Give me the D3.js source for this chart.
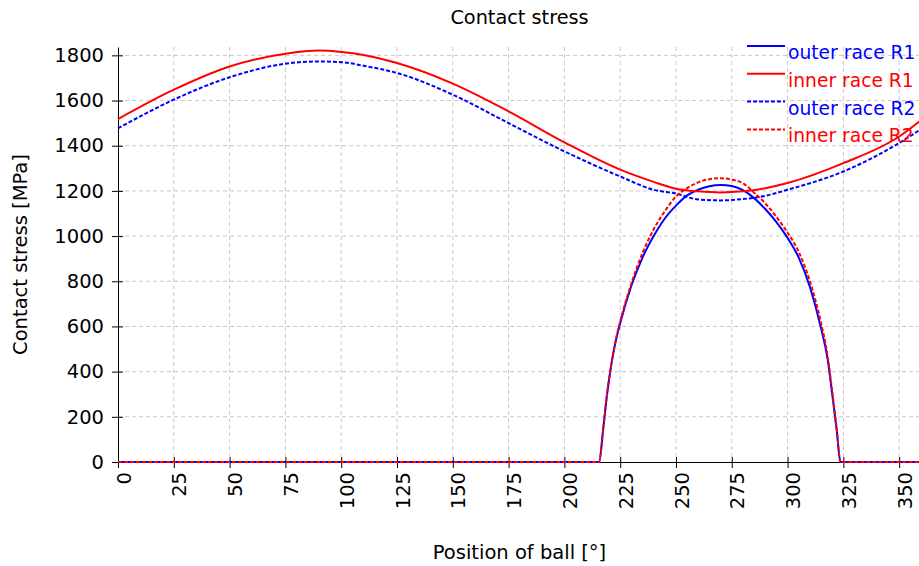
<!DOCTYPE html>
<html>
<head>
<meta charset="utf-8">
<script src="https://cdn.jsdelivr.net/npm/d3@7"></script>
<style>
  body { margin: 0; background: #fff; }
  svg { display: block; }
  svg text { font-family: "DejaVu Sans", Verdana, sans-serif; }
</style>
</head>
<body>
<div id="chart"></div>
<script>
// data : sine-like curves (inner race R1, outer race R2)
const sineDeg = [0, 25, 50, 75, 90, 100, 110, 125, 150, 175, 200, 225, 240, 250, 260, 270, 280, 290, 300, 325, 350, 360];
const innerR1 = [1518, 1648, 1751, 1807, 1821, 1815, 1802, 1766, 1675, 1552, 1415, 1294, 1240, 1210, 1198, 1193, 1198, 1212, 1235, 1323, 1441, 1515];
const outerR2 = [1477, 1604, 1703, 1763, 1773, 1770, 1754, 1722, 1626, 1500, 1375, 1264, 1205, 1188, 1162, 1158, 1164, 1178, 1205, 1286, 1412, 1475];

// data : loaded-zone arches (outer race R1, inner race R2)
const archDeg = [0, 215.5, 217.5, 219, 221, 223, 225, 230, 235, 240, 245, 250, 255, 260, 265, 270, 275, 280, 285, 290, 295, 300, 305, 310, 315, 318, 320, 322, 323.7, 360];
const outerR1 = [0, 0, 156, 289, 430, 535, 614, 780, 905, 1000, 1078, 1135, 1180, 1206, 1221, 1226, 1222, 1203, 1168, 1120, 1062, 992, 905, 775, 592, 452, 300, 142, 0, 0];
const innerR2 = [0, 0, 158, 292, 432, 540, 622, 790, 925, 1030, 1110, 1175, 1212, 1238, 1252, 1256, 1250, 1234, 1192, 1145, 1085, 1015, 930, 800, 615, 465, 312, 148, 0, 0];

const xTicks = d3.range(0, 351, 25);
const yTicks = d3.range(0, 1801, 200);

const series = [
  { name: "outer race R1", deg: archDeg, val: outerR1, color: "#0000ff", dash: null },
  { name: "inner race R1", deg: sineDeg, val: innerR1, color: "#ff0000", dash: null },
  { name: "outer race R2", deg: sineDeg, val: outerR2, color: "#0000ff", dash: "4,2" },
  { name: "inner race R2", deg: archDeg, val: innerR2, color: "#ff0000", dash: "4,2" },
];

//size
const width = 919, height = 566;
const margin = { top: 47, right: -2.5, bottom: 104, left: 118 };

const svg = d3.select("#chart").append("svg")
  .attr("width", width)
  .attr("height", height);

//scale
const x = d3.scaleLinear().domain([0, 360]).range([margin.left, width - margin.right]);
const y = d3.scaleLinear().domain([0, 1837]).range([height - margin.bottom, margin.top]);

//grid
svg.append("g")
  .selectAll("line")
  .data(xTicks.filter((d) => d > 0))
  .join("line")
  .attr("x1", (d) => x(d)).attr("x2", (d) => x(d))
  .attr("y1", y.range()[1]).attr("y2", y(0))
  .attr("stroke", "#c8c8c8")
  .attr("stroke-dasharray", "4,3");

svg.append("g")
  .selectAll("line")
  .data(yTicks.filter((d) => d > 0))
  .join("line")
  .attr("x1", x(0)).attr("x2", width)
  .attr("y1", (d) => y(d)).attr("y2", (d) => y(d))
  .attr("stroke", "#c8c8c8")
  .attr("stroke-dasharray", "4,3");

//axes
const yAxis = svg.append("g")
  .attr("transform", `translate(${x(0)},0)`)
  .call(d3.axisLeft(y).tickValues(yTicks).tickFormat(d3.format("d")).tickSize(6).tickPadding(8).tickSizeOuter(0))
  .attr("font-family", null);
yAxis.selectAll(".tick line").attr("x1", 5);
yAxis.selectAll("text").attr("font-size", 19.5).attr("fill", "#000");

const xAxis = svg.append("g")
  .attr("transform", `translate(0,${y(0)})`)
  .call(d3.axisBottom(x).tickValues(xTicks).tickFormat(d3.format("d")).tickSize(6).tickSizeOuter(0))
  .attr("font-family", null);
xAxis.selectAll(".tick line").attr("y1", -5);
xAxis.selectAll("text")
  .attr("font-size", 19.5)
  .attr("fill", "#000")
  .attr("transform", "rotate(-90)")
  .attr("text-anchor", "end")
  .attr("x", -10)
  .attr("y", 0)
  .attr("dy", "0.62em");
svg.selectAll(".domain").attr("stroke", "#000");

//lines
const line = d3.line().curve(d3.curveMonotoneX);
svg.append("g")
  .selectAll("path")
  .data(series)
  .join("path")
  .attr("fill", "none")
  .attr("stroke", (d) => d.color)
  .attr("stroke-width", 2)
  .attr("stroke-dasharray", (d) => d.dash)
  .attr("d", (d) => line(d.deg.map((v, i) => [x(v), y(d.val[i])])));

//legend
const legend = svg.append("g")
  .selectAll("g")
  .data(series)
  .join("g")
  .attr("transform", (d, i) => `translate(747,${46 + i * 27.8})`);
legend.append("line")
  .attr("x1", 0).attr("x2", 38)
  .attr("stroke", (d) => d.color)
  .attr("stroke-width", 2)
  .attr("stroke-dasharray", (d) => d.dash);
legend.append("text")
  .attr("x", 41)
  .attr("y", 13)
  .attr("font-size", 18.7)
  .attr("fill", (d) => d.color)
  .text((d) => d.name);

//titles
svg.append("text")
  .attr("x", 519.5).attr("y", 24)
  .attr("text-anchor", "middle")
  .attr("font-size", 19.3)
  .text("Contact stress");

svg.append("text")
  .attr("x", 519.5).attr("y", 559)
  .attr("text-anchor", "middle")
  .attr("font-size", 19.5)
  .text("Position of ball [°]");

svg.append("text")
  .attr("transform", "translate(27,254.5) rotate(-90)")
  .attr("text-anchor", "middle")
  .attr("font-size", 19.5)
  .text("Contact stress [MPa]");
</script>
</body>
</html>
